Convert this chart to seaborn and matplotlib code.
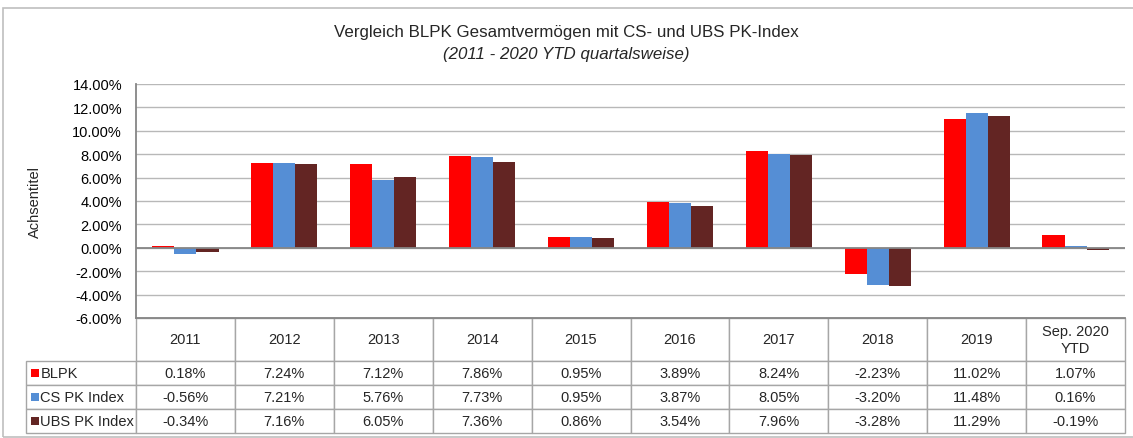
import matplotlib
matplotlib.use('Agg')
import matplotlib.pyplot as plt
import seaborn as sns
import pandas as pd
import numpy as np
from matplotlib.ticker import FuncFormatter
from matplotlib.patches import Rectangle

categories = ['2011', '2012', '2013', '2014', '2015', '2016', '2017', '2018', '2019', 'Sep. 2020\nYTD']
series = ['BLPK', 'CS PK Index', 'UBS PK Index']
blpk = [0.18, 7.24, 7.12, 7.86, 0.95, 3.89, 8.24, -2.23, 11.02, 1.07]
cs_pk = [-0.56, 7.21, 5.76, 7.73, 0.95, 3.87, 8.05, -3.20, 11.48, 0.16]
ubs_pk = [-0.34, 7.16, 6.05, 7.36, 0.86, 3.54, 7.96, -3.28, 11.29, -0.19]
colors = ['#FF0000', '#558ED5', '#632523']
y_ticks = [-6, -4, -2, 0, 2, 4, 6, 8, 10, 12, 14]

sns.set_theme(style='white')
plt.rcParams['font.family'] = ['Liberation Sans Narrow', 'Liberation Sans', 'DejaVu Sans']

W, H = 1133, 439
fig = plt.figure(figsize=(W / 100, H / 100), dpi=100)
fig.patch.set_facecolor('white')

ax_l, ax_r, ax_t, ax_b = 136, 1125, 85, 319
ax = fig.add_axes([ax_l / W, 1 - ax_b / H, (ax_r - ax_l) / W, (ax_b - ax_t) / H])

df = pd.DataFrame({
    'cat': categories * 3,
    'series': np.repeat(series, len(categories)),
    'val': blpk + cs_pk + ubs_pk,
})
sns.barplot(data=df, x='cat', y='val', hue='series', order=categories, hue_order=series,
            palette=colors, width=0.67, saturation=1, ax=ax, legend=False,
            linewidth=0, zorder=3)

ax.set_xlim(-0.5, len(categories) - 0.5)
ax.set_ylim(-6, 14)
ax.set_yticks(y_ticks)
ax.yaxis.set_major_formatter(FuncFormatter(lambda v, p: f'{v:.2f}%'))
ax.tick_params(axis='y', length=0, pad=10, labelsize=10.5, colors='#000000')
ax.tick_params(axis='x', length=0, labelbottom=False)
ax.set_xlabel('')
ax.set_ylabel('')
ax.yaxis.grid(True, color='#b8b8b8', linewidth=1, zorder=0)
ax.set_axisbelow(True)
ax.axhline(0, color='#868686', linewidth=1.3, zorder=4)
for s in ['top', 'right']:
    ax.spines[s].set_visible(False)
for s in ['left', 'bottom']:
    ax.spines[s].set_color('#868686')
    ax.spines[s].set_linewidth(1.3)

# data table below the chart
tab_left, tab_bottom = 26, 434
axw, axh = ax_r - ax_l, ax_b - ax_t
bbox = [(tab_left - ax_l) / axw, -(tab_bottom - ax_b) / axh,
        (ax_r - tab_left) / axw, (tab_bottom - ax_b) / axh]
vals = [blpk, cs_pk, ubs_pk]
cell_text = [[''] + categories]
for name, v in zip(series, vals):
    cell_text.append([name] + [f'{x:.2f}%' for x in v])
col_w = [ax_l - tab_left] + [axw / len(categories)] * len(categories)
table = ax.table(cellText=cell_text, cellLoc='center', colWidths=col_w, bbox=bbox)
table.auto_set_font_size(False)
table.set_fontsize(10.5)
for (r, c), cell in table.get_celld().items():
    cell.set_edgecolor('#a6a6a6')
    cell.set_linewidth(1)
    cell.set_height(43 if r == 0 else 24)
    if r == 0 and c == 0:
        cell.visible_edges = 'open'
    if c == 0 and r > 0:
        cell._loc = 'left'
        cell.PAD = 0.13
        cell.get_text().set_ha('left')

row_centers = [374, 398, 422]
for yc, col in zip(row_centers, colors):
    fig.add_artist(Rectangle((31 / W, 1 - (yc + 4) / H), 8 / W, 8 / H,
                             transform=fig.transFigure, facecolor=col, edgecolor='none'))

fig.text(35 / W, 1 - 202 / H, 'Achsentitel', rotation=90, ha='center', va='center', fontsize=10.5)
fig.text(0.5, 1 - 32 / H, 'Vergleich BLPK Gesamtvermögen mit CS- und UBS PK-Index',
         ha='center', va='center', fontsize=12.2)
fig.text(0.5, 1 - 55 / H, '(2011 - 2020 YTD quartalsweise)', ha='center', va='center',
         fontsize=12.2, style='italic')

fig.add_artist(Rectangle((3 / W, 1 / H), 1.2, 436 / H - 1 / H - 6 / H,
                         transform=fig.transFigure, fill=False, edgecolor='#bfbfbf', linewidth=1.2))

fig.savefig('out.png', dpi=100)
